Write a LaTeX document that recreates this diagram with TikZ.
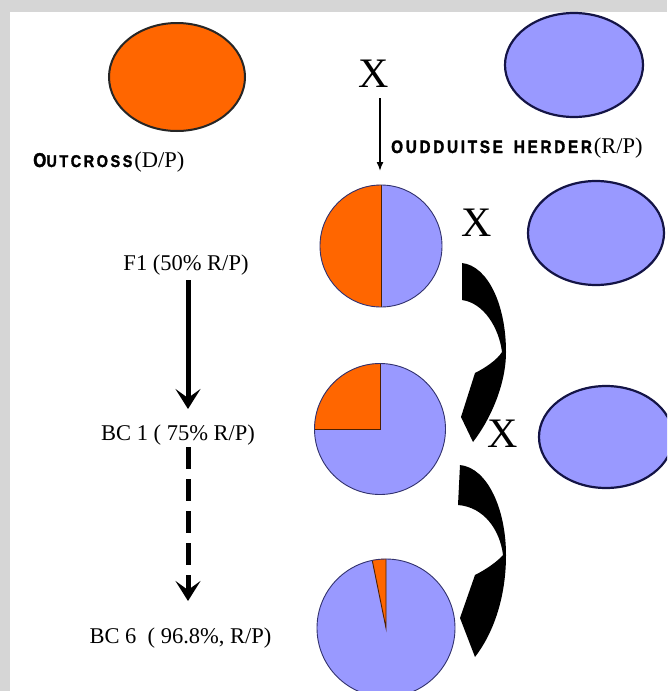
\documentclass[tikz,border=0pt]{standalone}
\usepackage{fontspec}
\setmainfont{Liberation Serif}
\newfontfamily\capsfont[FakeStretch=0.85,LetterSpace=15,FakeBold=1.6]{Liberation Sans}
\usetikzlibrary{arrows.meta,shapes.geometric}
\definecolor{orng}{RGB}{255,102,0}
\definecolor{lblue}{RGB}{153,153,255}
\definecolor{navy}{RGB}{20,20,70}
\definecolor{pieedge}{RGB}{50,50,110}
\definecolor{edgegray}{RGB}{214,214,214}
\begin{document}
\begin{tikzpicture}[x=1pt,y=-1pt,
  txt/.style={inner sep=0pt, font=\fontsize{22.5}{27}\selectfont, anchor=base},
  bigx/.style={inner sep=0pt, font=\fontsize{42}{48}\selectfont},
  blueell/.style={ellipse, draw=navy, line width=2.2pt, fill=lblue, inner sep=0pt},
  orell/.style={ellipse, draw=black!85, line width=2pt, fill=orng, inner sep=0pt},
  pienode/.style={circle, fill=lblue, inner sep=0pt},
  pieline/.style={draw=pieedge, line width=0.9pt},
  sliceline/.style={draw=black!70!orng, line width=0.9pt},
  thickarr/.style={line width=5pt, -{Stealth[length=20pt,width=25pt,inset=9pt]}},
  thinarr/.style={line width=1.5pt, -{Latex[length=9pt,width=7pt]}},
]
\useasboundingbox (0,0) rectangle (667,691);
\clip (0,0) rectangle (667,691);
\fill[edgegray] (0,0) rectangle (667,691);
\fill[white] (10,12) rectangle (667,691);

% parents
\node[orell, minimum width=136pt, minimum height=108pt] (pout) at (177,77) {};
\node[blueell, minimum width=138pt, minimum height=104pt] (pherd) at (574,65) {};
\node[anchor=base west, inner sep=0pt] (tout) at (33,167)
  {\capsfont\bfseries\fontsize{20}{22}\selectfont O\fontsize{17}{19}\selectfont UTCROSS\rmfamily\mdseries\fontsize{22.5}{27}\selectfont\hspace{2pt}(D/P)};
\node[anchor=base west, inner sep=0pt] (therd) at (391,153)
  {\capsfont\bfseries\fontsize{18}{20}\selectfont OUDDUITSE\hspace{4pt} HERDER\rmfamily\mdseries\fontsize{22.5}{27}\selectfont\hspace{2pt}(R/P)};

\node[bigx] (x0) at (374,74) {X};
\coordinate (a0s) at (380,98);
\coordinate (a0e) at (380,171);
\draw[thinarr] (a0s) -- (a0e);

% F1 pie
\node[pienode, minimum size=122pt] (pf1) at (381,246) {};
\fill[orng] (pf1.center) -- (pf1.north) arc[start angle=90,end angle=270,radius=61pt] -- cycle;
\draw[sliceline] (pf1.north) -- (pf1.south);
\draw[pieline] (pf1.center) circle[radius=61pt];

\node[bigx] (x1) at (477,223) {X};
\node[blueell, minimum width=136pt, minimum height=104pt] (pbc1) at (596,233) {};

% BC1 pie
\node[pienode, minimum size=131pt] (pb1) at (380,429) {};
\fill[orng] (pb1.center) -- (pb1.north) arc[start angle=90,end angle=180,radius=65.5pt] -- cycle;
\draw[sliceline] (pb1.north) -- (pb1.center) -- (pb1.west);
\draw[pieline] (pb1.center) circle[radius=65.5pt];

\node[bigx] (x2) at (503,434) {X};
\node[blueell, minimum width=134pt, minimum height=102pt] (pbc2) at (606,437) {};

% BC6 pie
\node[pienode, minimum size=138pt] (pb6) at (386,628) {};
\fill[orng] (pb6.center) -- (pb6.north) arc[start angle=90,end angle=101.5,radius=69pt] -- cycle;
\draw[sliceline] (pb6.north) -- (pb6.center) -- ++(101.5:69pt);
\draw[pieline] (pb6.center) circle[radius=69pt];

% curved arrows
\fill[black] (462,263) .. controls (488,266) and (506,305) .. (506,352)
  .. controls (506,385) and (490,420) .. (473,442)
  -- (461,417) -- (475,373)
  .. controls (485,368) and (497,360) .. (502,352)
  .. controls (499,328) and (484,303) .. (462,300) -- cycle;
\fill[black] (460,465) .. controls (488,468) and (506,510) .. (506,555)
  .. controls (506,600) and (492,635) .. (475,657)
  -- (460,618) -- (475,575)
  .. controls (485,570) and (497,562) .. (503,555)
  .. controls (500,530) and (484,507) .. (458,505) -- cycle;

% left column
\node[txt] (tf1) at (186,270) {F1 (50\% R/P)};
\node[txt] (tb1) at (178,440) {BC 1 ( 75\% R/P)};
\node[txt] (tb6) at (180.5,643) {BC 6\ \ ( 96.8\%, R/P)};
\coordinate (a1s) at (188,280);
\coordinate (a1e) at (188,409);
\coordinate (a2s) at (188,447);
\coordinate (a2e) at (188,601);
\draw[thickarr] (a1s) -- (a1e);
\draw[thickarr, dash pattern=on 22pt off 10pt] (a2s) -- (a2e);
\end{tikzpicture}
\end{document}
